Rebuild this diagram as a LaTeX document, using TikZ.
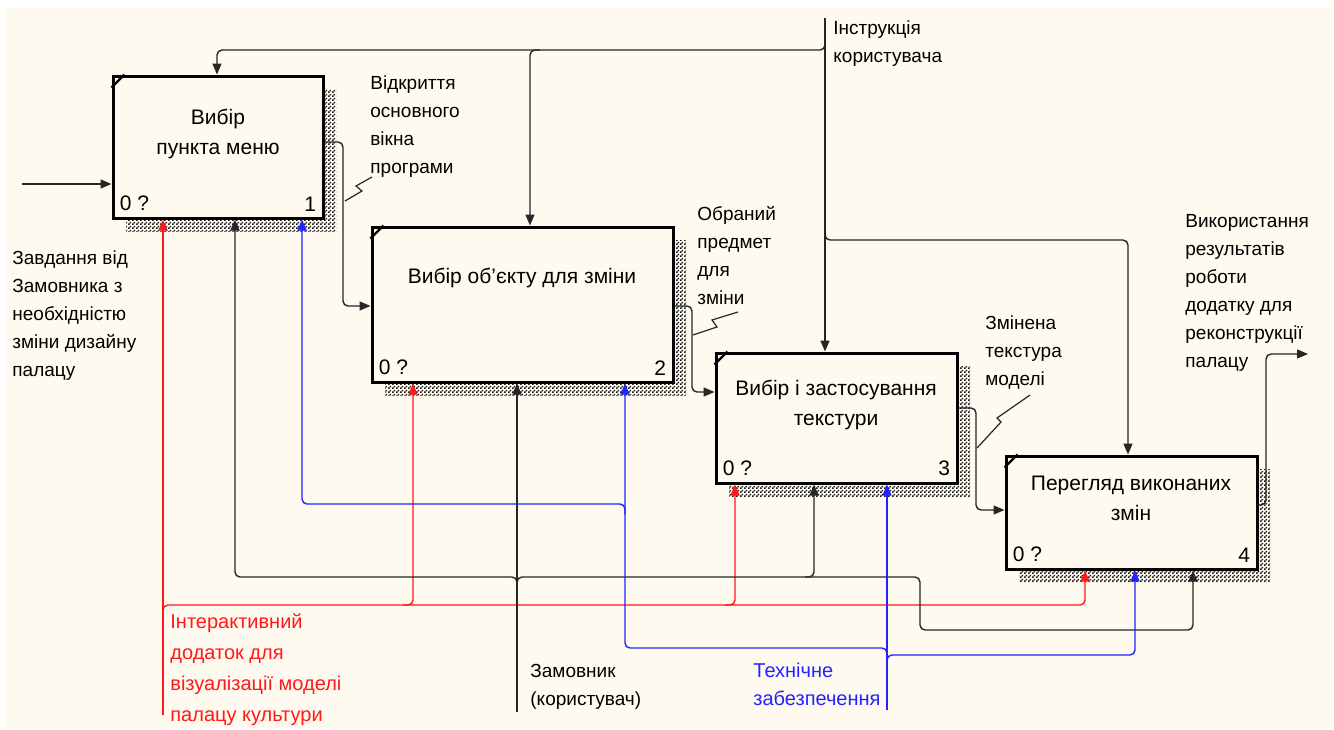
\documentclass[tikz,border=0pt]{standalone}
\usepackage{fontspec}
\setmainfont{Liberation Sans}
\usetikzlibrary{arrows.meta,patterns}
\definecolor{paper}{RGB}{255,250,240}
\definecolor{mred}{RGB}{255,25,25}
\definecolor{mblue}{RGB}{35,35,255}
\pgfdeclarepatternformonly{idefshade}{\pgfpointorigin}{\pgfqpoint{2pt}{2pt}}{\pgfqpoint{2pt}{2pt}}{%
  \pgfpathrectangle{\pgfpointorigin}{\pgfqpoint{1pt}{1pt}}%
  \pgfpathrectangle{\pgfqpoint{1pt}{1pt}}{\pgfqpoint{1pt}{1pt}}%
  \pgfusepath{fill}}
\tikzset{
  act/.style={draw, line width=1.5pt, fill=paper, inner sep=0pt},
  actname/.style={font=\fontsize{10.5}{15}\selectfont, align=center, inner sep=0pt},
  actnum/.style={font=\fontsize{10.5}{12}\selectfont, inner sep=0pt},
  shade/.style={pattern=idefshade, pattern color=black!90},
  link/.style={line width=0.7pt, draw=black!85, rounded corners=2.5pt,
    -{Triangle[length=5.5pt,width=4.5pt]}},
  mechred/.style={link, draw=mred},
  mechblue/.style={link, draw=mblue},
  squig/.style={line width=0.6pt, draw=black!85},
  lbl/.style={font=\fontsize{9.5}{14}\selectfont, align=left, inner sep=0pt, anchor=north west}
}
\begin{document}
\begin{tikzpicture}[x=0.5pt,y=-0.5pt]
\useasboundingbox (0,0) rectangle (1334,729);
\fill[paper] (6,8) rectangle (1332,728);

% shadows
\fill[shade] (126,89) rectangle (336,231);
\fill[shade] (385,240) rectangle (686,395);
\fill[shade] (729,366) rectangle (970,496);
\fill[shade] (1019,469) rectangle (1270,582);

% activity boxes
\node[act, minimum width=105pt, minimum height=71pt] (b1) at (218,147) {};
\node[act, minimum width=150.5pt, minimum height=77.5pt] (b2) at (522.5,304.5) {};
\node[act, minimum width=120.5pt, minimum height=65pt] (b3) at (836.5,418) {};
\node[act, minimum width=125.5pt, minimum height=56.5pt] (b4) at (1131.5,512.5) {};

\foreach \b in {b1,b2,b3,b4}
  \draw[line width=1.2pt] ([yshift=-6.5pt]\b.north west) -- ([xshift=6.5pt]\b.north west);

\node[actname] (b1t) at (218,134) {Вибір\\пункта меню};
\node[actname] (b2t) at (522,278) {Вибір об'єкту для зміни};
\node[actname] (b3t) at (836,405) {Вибір і застосування\\текстури};
\node[actname] (b4t) at (1131,498) {Перегляд виконаних\\змін};

\node[actnum, anchor=south west] (b1z) at ([shift={(4pt,4pt)}]b1.south west) {0 ?};
\node[actnum, anchor=south east] (b1n) at ([shift={(-4pt,4pt)}]b1.south east) {1};
\node[actnum, anchor=south west] (b2z) at ([shift={(4pt,4pt)}]b2.south west) {0 ?};
\node[actnum, anchor=south east] (b2n) at ([shift={(-4pt,4pt)}]b2.south east) {2};
\node[actnum, anchor=south west] (b3z) at ([shift={(4pt,4pt)}]b3.south west) {0 ?};
\node[actnum, anchor=south east] (b3n) at ([shift={(-4pt,4pt)}]b3.south east) {3};
\node[actnum, anchor=south west] (b4z) at ([shift={(4pt,4pt)}]b4.south west) {0 ?};
\node[actnum, anchor=south east] (b4n) at ([shift={(-4pt,4pt)}]b4.south east) {4};

% input and outputs
\coordinate (inp) at (22,184);
\draw[link] (inp) -- (b1.west |- inp);
\draw[link] (b1.east |- 0,142) -- (343,142) -- (343,306) -- (b2.west |- 0,306);
\draw[link] (b2.east |- 0,306) -- (692,306) -- (692,392) -- (b3.west |- 0,392);
\draw[link] (b3.east |- 0,408) -- (976,408) -- (976,510) -- (b4.west |- 0,510);
\coordinate (outp) at (1308,354);
\draw[link] (b4.east |- 0,505) -- (1266,505) -- (1266,354) -- (outp);

% control
\coordinate (ctl) at (825,18);
\draw[link] (ctl) -- (b3.north -| ctl);
\draw[link] (825,40) -- (825,50) -- (217,50) -- (b1.north -| 217,0);
\draw[link] (540,50) -- (530,50) -- (b2.north -| 530,0);
\draw[link] (825,230) -- (825,240) -- (1128,240) -- (b4.north -| 1128,0);

% mechanisms
\coordinate (mr) at (163,715);
\draw[mechred] (mr) -- (b1.south -| mr);
\draw[mechred] (163,615) -- (163,605) -- (1085,605) -- (b4.south -| 1085,0);
\draw[mechred] (403,605) -- (413,605) -- (b2.south -| 413,0);
\draw[mechred] (725,605) -- (735,605) -- (b3.south -| 735,0);

\coordinate (mk) at (517,712);
\draw[link] (mk) -- (b2.south -| mk);
\draw[link] (517,587) -- (517,577) -- (235,577) -- (b1.south -| 235,0);
\draw[link] (517,587) -- (517,577) -- (920,577) -- (920,630) -- (1193,630) -- (b4.south -| 1193,0);
\draw[link] (805,577) -- (814,577) -- (b3.south -| 814,0);

\coordinate (mb) at (887,710);
\draw[mechblue] (mb) -- (b3.south -| mb);
\draw[mechblue] (887,665) -- (887,655) -- (1135,655) -- (b4.south -| 1135,0);
\draw[mechblue] (887,658) -- (887,648) -- (625,648) -- (b2.south -| 625,0);
\draw[mechblue] (625,514) -- (625,504) -- (302,504) -- (b1.south -| 302,0);

% squiggles
\draw[squig] (345,201) -- (362,191) -- (356,186) -- (372,177);
\draw[squig] (693,335) -- (717,327) -- (712,320) -- (738,312);
\draw[squig] (977,448) -- (1001,422) -- (997,418) -- (1030,395);

% labels
\node[lbl] (tin) at (12,250) {Завдання від\\Замовника з\\необхідністю\\зміни дизайну\\палацу};
\node[lbl] (to1) at (370,75) {Відкриття\\основного\\вікна\\програми};
\node[lbl] (to2) at (697,206) {Обраний\\предмет\\для\\зміни};
\node[lbl] (to3) at (985,315) {Змінена\\текстура\\моделі};
\node[lbl] (to4) at (1185,214) {Використання\\результатів\\роботи\\додатку для\\реконструкції\\палацу};
\node[lbl] (tctl) at (833,20) {Інструкція\\користувача};
\node[lbl, text=mred, font=\fontsize{10}{15.5}\selectfont] (tmr) at (170,613) {Інтерактивний\\додаток для\\візуалізації моделі\\палацу культури};
\node[lbl] (tmk) at (530,664) {Замовник\\(користувач)};
\node[lbl, text=mblue, font=\fontsize{10}{14}\selectfont] (tmb) at (753,663) {Технічне\\забезпечення};
\end{tikzpicture}
\end{document}
